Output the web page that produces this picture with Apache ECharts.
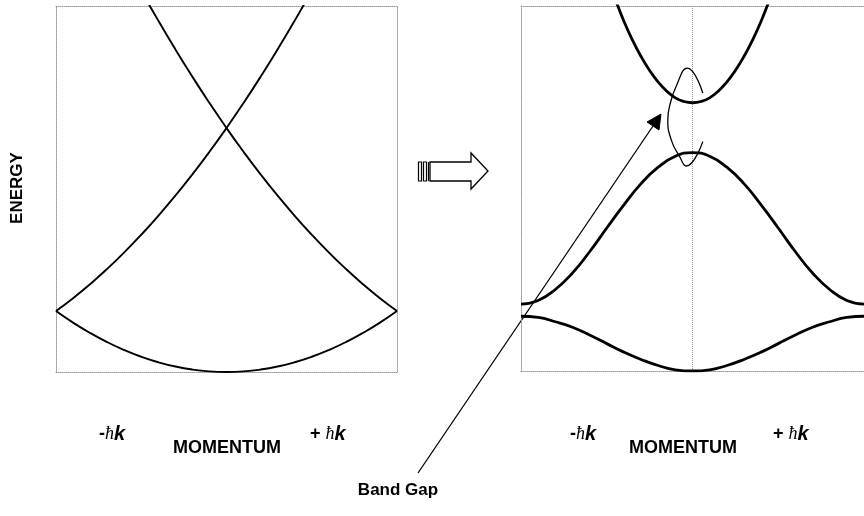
<!DOCTYPE html>
<html>
<head>
<meta charset="utf-8">
<script src="https://cdn.jsdelivr.net/npm/echarts@6/dist/echarts.min.js"></script>
<style>
html, body { margin: 0; padding: 0; background: #fff; }
#main { width: 864px; height: 516px; }
</style>
</head>
<body>
<div id="main"></div>
<script>
// left panel: free electron parabolas (momentum -1..1, energy 0..6)
var kFree = [-1.0, -0.9, -0.8, -0.7, -0.6, -0.5, -0.4, -0.3, -0.2, -0.1, 0, 0.1, 0.2, 0.3, 0.4, 0.5, 0.6, 0.7, 0.8, 0.9, 1.0];
var freeLow = [1.00, 0.81, 0.64, 0.49, 0.36, 0.25, 0.16, 0.09, 0.04, 0.01, 0.00, 0.01, 0.04, 0.09, 0.16, 0.25, 0.36, 0.49, 0.64, 0.81, 1.00];
var riseK = [-1.0, -0.9, -0.8, -0.7, -0.6, -0.5, -0.4, -0.3, -0.2, -0.1, 0, 0.1, 0.2, 0.3, 0.4, 0.5];
var riseE = [1.00, 1.21, 1.44, 1.69, 1.96, 2.25, 2.56, 2.89, 3.24, 3.61, 4.00, 4.41, 4.84, 5.29, 5.76, 6.25];
var fallK = [-0.5, -0.4, -0.3, -0.2, -0.1, 0, 0.1, 0.2, 0.3, 0.4, 0.5, 0.6, 0.7, 0.8, 0.9, 1.0];
var fallE = [6.25, 5.76, 5.29, 4.84, 4.41, 4.00, 3.61, 3.24, 2.89, 2.56, 2.25, 1.96, 1.69, 1.44, 1.21, 1.00];

// right panel: bands with gaps
var bandK = kFree;
var band1 = [0.90, 0.88, 0.81, 0.72, 0.59, 0.45, 0.31, 0.19, 0.09, 0.02, 0.00, 0.02, 0.09, 0.19, 0.31, 0.45, 0.59, 0.72, 0.81, 0.88, 0.90];
var band2 = [1.10, 1.16, 1.34, 1.61, 1.96, 2.35, 2.73, 3.08, 3.35, 3.53, 3.59, 3.53, 3.35, 3.08, 2.73, 2.35, 1.96, 1.61, 1.34, 1.16, 1.10];
var topK = [-0.45, -0.4, -0.35, -0.3, -0.25, -0.2, -0.15, -0.1, -0.05, 0, 0.05, 0.1, 0.15, 0.2, 0.25, 0.3, 0.35, 0.4, 0.45];
var band3 = [6.11, 5.75, 5.44, 5.17, 4.94, 4.75, 4.60, 4.49, 4.43, 4.41, 4.43, 4.49, 4.60, 4.75, 4.94, 5.17, 5.44, 5.75, 6.11];
// the little bracket marking the gap
var gapK = [0.06, -0.03, -0.095, -0.134, -0.144, -0.124, -0.076, -0.037, 0.06];
var gapE = [4.57, 4.98, 4.68, 4.35, 4.13, 3.80, 3.53, 3.37, 3.77];

function zip (xs, ys) {
    var out = [];
    for (var i = 0; i < xs.length; i++) {
        out.push([xs[i], ys[i]]);
    }
    return out;
}

var frame = { show: true, onZero: false, lineStyle: { color: '#9a9a9a', type: 'dotted', width: 1 } };

function xAx (grid, pos, split) {
    return {
        type: 'value', gridIndex: grid, position: pos, min: -1, max: 1, interval: 1,
        axisLine: frame, axisTick: { show: false }, axisLabel: { show: false },
        splitLine: { show: split, lineStyle: { color: '#9a9a9a', type: 'dotted', width: 1 } }
    };
}
function yAx (grid, pos) {
    return {
        type: 'value', gridIndex: grid, position: pos, min: 0, max: 6, interval: 1,
        axisLine: frame, axisTick: { show: false }, axisLabel: { show: false },
        splitLine: { show: false }
    };
}
function curve (xi, yi, data, w, smooth) {
    return {
        type: 'line', xAxisIndex: xi, yAxisIndex: yi, data: data,
        showSymbol: false, smooth: smooth, silent: true, clip: true,
        lineStyle: { color: '#000', width: w }
    };
}

var hk = function (sign) {
    return '{a|' + sign + '}{h|ħ}{k|k}';
};
var hkRich = {
    a: { font: 'bold 18px "Liberation Sans"', fill: '#000' },
    h: { font: 'italic 18px "Liberation Serif"', fill: '#000' },
    k: { font: 'bold italic 20px "Liberation Sans"', fill: '#000' }
};
var labelFont = 'bold 17px "Liberation Sans"';

var chart = echarts.init(document.getElementById('main'), null, { renderer: 'canvas' });
chart.setOption({
    animation: false,
    backgroundColor: '#fff',
    grid: [
        { left: 56, top: 6, width: 341, height: 366 },
        { left: 521, top: 6, width: 344, height: 365 }
    ],
    xAxis: [xAx(0, 'bottom', false), xAx(0, 'top', false), xAx(1, 'bottom', true), xAx(1, 'top', false)],
    yAxis: [yAx(0, 'left'), yAx(0, 'right'), yAx(1, 'left'), yAx(1, 'right')],
    series: [
        curve(0, 0, zip(kFree, freeLow), 1.9, true),
        curve(0, 0, zip(riseK, riseE), 1.9, true),
        curve(0, 0, zip(fallK, fallE), 1.9, true),
        curve(2, 2, zip(bandK, band1), 2.8, true),
        curve(2, 2, zip(bandK, band2), 2.8, true),
        curve(2, 2, zip(topK, band3), 2.8, true),
        curve(2, 2, zip(gapK, gapE), 1.3, 0.5)
    ],
    graphic: [
        // hollow arrow between the panels
        {
            type: 'polygon',
            shape: { points: [[430, 162], [471, 162], [471, 153], [488, 171], [471, 189], [471, 181], [430, 181]] },
            style: { fill: '#fff', stroke: '#000', lineWidth: 1.3 }
        },
        { type: 'rect', shape: { x: 418.5, y: 162, width: 3, height: 19 }, style: { fill: '#fff', stroke: '#000', lineWidth: 1.2 } },
        { type: 'rect', shape: { x: 423.5, y: 162, width: 3, height: 19 }, style: { fill: '#fff', stroke: '#000', lineWidth: 1.2 } },
        { type: 'line', shape: { x1: 428.5, y1: 162, x2: 428.5, y2: 181 }, style: { stroke: '#000', lineWidth: 1.2 } },
        // pointer to the gap
        { type: 'line', shape: { x1: 418, y1: 473, x2: 653, y2: 126 }, style: { stroke: '#000', lineWidth: 1.3 } },
        {
            type: 'polygon',
            shape: { points: [[661, 114], [647, 122], [659, 130]] },
            style: { fill: '#000', stroke: '#000', lineWidth: 1 }
        },
        // text
        {
            type: 'text', x: 17, y: 188, rotation: Math.PI / 2,
            style: { text: 'ENERGY', font: labelFont, fill: '#000', align: 'center', verticalAlign: 'middle' }
        },
        { type: 'text', x: 99, y: 434, style: { text: hk('-'), rich: hkRich, align: 'left', verticalAlign: 'middle' } },
        { type: 'text', x: 310, y: 434, style: { text: hk('+ '), rich: hkRich, align: 'left', verticalAlign: 'middle' } },
        { type: 'text', x: 227, y: 448, style: { text: 'MOMENTUM', font: 'bold 18px "Liberation Sans"', fill: '#000', align: 'center', verticalAlign: 'middle' } },
        { type: 'text', x: 570, y: 434, style: { text: hk('-'), rich: hkRich, align: 'left', verticalAlign: 'middle' } },
        { type: 'text', x: 773, y: 434, style: { text: hk('+ '), rich: hkRich, align: 'left', verticalAlign: 'middle' } },
        { type: 'text', x: 683, y: 448, style: { text: 'MOMENTUM', font: 'bold 18px "Liberation Sans"', fill: '#000', align: 'center', verticalAlign: 'middle' } },
        { type: 'text', x: 398, y: 490, style: { text: 'Band Gap', font: labelFont, fill: '#000', align: 'center', verticalAlign: 'middle' } }
    ]
});
</script>
</body>
</html>
